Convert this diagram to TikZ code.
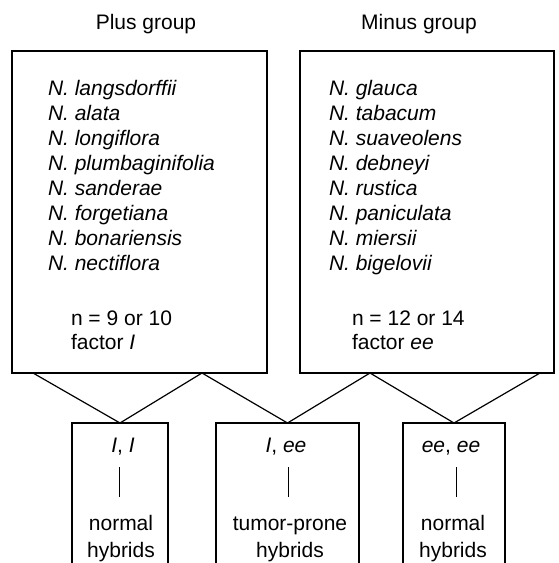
\documentclass[tikz,border=0pt]{standalone}
\usepackage{fontspec}
\setmainfont{Liberation Sans}
\begin{document}
\begin{tikzpicture}[x=1pt,y=-1pt,
  every node/.style={font=\fontsize{21}{25}\selectfont, inner sep=0pt, outer sep=0pt},
  bigbox/.style={draw, line width=1.2pt, minimum height=322pt},
  ln/.style={line width=1.2pt},
  sp/.style={anchor=base west, font=\fontsize{21}{25}\selectfont\itshape},
  tx/.style={anchor=base west},
  ctr/.style={anchor=base}]
\useasboundingbox (0,0) rectangle (559,563);
% titles
\node[ctr] (plustitle) at (146,29) {Plus group};
\node[ctr] (minustitle) at (419,29) {Minus group};
% top boxes
\node[bigbox, minimum width=255pt] (plusbox) at (139.5,212) {};
\node[bigbox, minimum width=254pt] (minusbox) at (427,212) {};
% species
\foreach \t [count=\i] in {langsdorffii,alata,longiflora,plumbaginifolia,sanderae,forgetiana,bonariensis,nectiflora}
  \node[sp] (pl\i) at (48,{95+25*(\i-1)}) {N. \t};
\foreach \t [count=\i] in {glauca,tabacum,suaveolens,debneyi,rustica,paniculata,miersii,bigelovii}
  \node[sp] (mi\i) at (329,{95+25*(\i-1)}) {N. \t};
\node[tx] (pln) at (71,325) {n = 9 or 10};
\node[tx] (plf) at (71,349) {factor \textit{I}};
\node[tx] (min) at (352,325) {n = 12 or 14};
\node[tx] (mif) at (352,349) {factor \textit{ee}};
% bottom boxes (open at the bottom)
\node[minimum width=96pt, minimum height=140pt] (h1) at (120,493) {};
\node[minimum width=143pt, minimum height=140pt] (h2) at (287.5,493) {};
\node[minimum width=102pt, minimum height=140pt] (h3) at (454,493) {};
\foreach \h in {h1,h2,h3}
  \draw[ln] (\h.south west) -- (\h.north west) -- (\h.north east) -- (\h.south east);
% crossing lines
\coordinate (A) at (33,373);
\coordinate (B) at (202,373);
\coordinate (C) at (370,373);
\coordinate (D) at (540,373);
\draw[ln, line join=miter] (A) -- (h1.north) -- (B) -- (h2.north) -- (C) -- (h3.north) -- (D);
% bottom texts
\node[ctr] (g1) at (123,452) {\textit{I}, \textit{I}};
\node[ctr] (g2) at (286,452) {\textit{I}, \textit{ee}};
\node[ctr] (g3) at (451,452) {\textit{ee}, \textit{ee}};
\node[ctr] (r1a) at (121,530) {normal};
\node[ctr] (r1b) at (121,557) {hybrids};
\node[ctr] (r2a) at (290,530) {tumor-prone};
\node[ctr] (r2b) at (290,557) {hybrids};
\node[ctr] (r3a) at (453,530) {normal};
\node[ctr] (r3b) at (453,557) {hybrids};
% ticks
\foreach \x/\n in {119/1,288/2,456/3}{
  \coordinate (t\n a) at (\x,467);
  \coordinate (t\n b) at (\x,497);
  \draw[line width=1pt] (t\n a) -- (t\n b);
}
\end{tikzpicture}
\end{document}
